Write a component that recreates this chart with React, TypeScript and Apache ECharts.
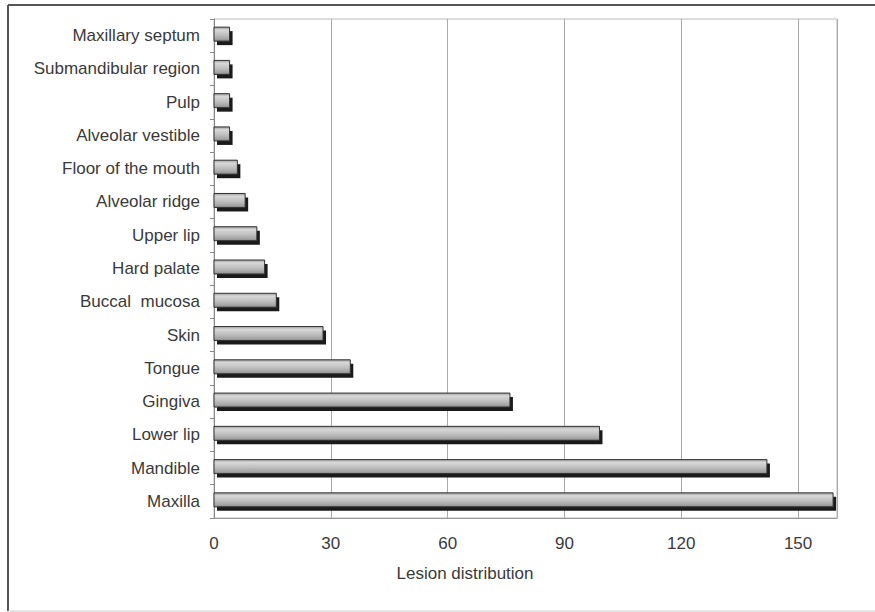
import React, { useEffect, useRef } from "react";
import * as echarts from "echarts";

const categories = [
  "Maxillary septum",
  "Submandibular region",
  "Pulp",
  "Alveolar vestible",
  "Floor of the mouth",
  "Alveolar ridge",
  "Upper lip",
  "Hard palate",
  "Buccal  mucosa",
  "Skin",
  "Tongue",
  "Gingiva",
  "Lower lip",
  "Mandible",
  "Maxilla",
];
const lesionCounts = [4, 4, 4, 4, 6, 8, 11, 13, 16, 28, 35, 76, 99, 142, 159];
const axisTitle = "Lesion distribution";

export default function App() {
  const ref = useRef<HTMLDivElement>(null);
  useEffect(() => {
    if (!ref.current) return;
    const chart = echarts.init(ref.current, undefined, { renderer: "svg" });
    const font = "'Liberation Sans', Arial, sans-serif";
    chart.setOption({
      animation: false,
      backgroundColor: "#ffffff",
      grid: {
        left: 214,
        top: 19,
        right: 38,
        bottom: 94,
        show: true,
        borderColor: "#bbbbbb",
        borderWidth: 1,
      },
      xAxis: {
        type: "value",
        min: 0,
        max: 160,
        interval: 30,
        axisLine: { show: true, lineStyle: { color: "#999999" } },
        axisTick: { show: false },
        splitLine: { show: true, lineStyle: { color: "#aaaaaa", width: 1 } },
        axisLabel: {
          showMaxLabel: false,
          color: "#3a3a3a",
          fontSize: 17,
          fontFamily: font,
          margin: 17,
        },
      },
      yAxis: {
        type: "category",
        inverse: true,
        data: categories,
        axisLine: { show: true, lineStyle: { color: "#888888" } },
        axisTick: { show: true, length: 4, lineStyle: { color: "#888888" } },
        axisLabel: {
          color: "#3a3a3a",
          fontSize: 17,
          fontFamily: font,
          margin: 14,
        },
      },
      graphic: [
        {
          type: "line",
          shape: { x1: 8, y1: 5, x2: 875, y2: 5 },
          style: { stroke: "#555555", lineWidth: 2 },
        },
        {
          type: "line",
          shape: { x1: 8, y1: 5, x2: 8, y2: 611 },
          style: { stroke: "#555555", lineWidth: 2 },
        },
        {
          type: "line",
          shape: { x1: 8, y1: 611, x2: 875, y2: 611 },
          style: { stroke: "#cccccc", lineWidth: 1 },
        },
        {
          type: "text",
          x: 465,
          y: 573,
          style: {
            text: axisTitle,
            fill: "#3a3a3a",
            fontSize: 17,
            fontFamily: font,
            align: "center",
            verticalAlign: "middle",
          },
        },
      ],
      series: [
        {
          type: "custom",
          data: categories.map((c, i) => [i, lesionCounts[i]]),
          encode: { y: 0, x: 1 },
          renderItem: (params: any, api: any) => {
            const idx = api.value(0);
            const v = api.value(1);
            const p0 = api.coord([0, idx]);
            const p1 = api.coord([v, idx]);
            const cy = p0[1];
            const w = p1[0] - p0[0];
            const h = 14;
            return {
              type: "group",
              children: [
                {
                  type: "rect",
                  shape: { x: p0[0] + 3, y: cy - 4.5, width: w, height: h },
                  style: { fill: "#1a1a1a" },
                },
                {
                  type: "rect",
                  shape: { x: p0[0], y: cy - 8.5, width: w, height: h },
                  style: {
                    stroke: "#333333",
                    lineWidth: 1,
                    fill: new echarts.graphic.LinearGradient(0, 0, 0, 1, [
                      { offset: 0, color: "#9c9c9c" },
                      { offset: 0.2, color: "#d8d8d8" },
                      { offset: 0.55, color: "#c0c0c0" },
                      { offset: 0.85, color: "#a4a4a4" },
                      { offset: 1, color: "#888888" },
                    ]),
                  },
                },
              ],
            };
          },
        },
      ],
    });
    return () => chart.dispose();
  }, []);
  return (
    <div
      ref={ref}
      style={{ position: "fixed", left: 0, top: 0, width: 875, height: 612 }}
    />
  );
}
